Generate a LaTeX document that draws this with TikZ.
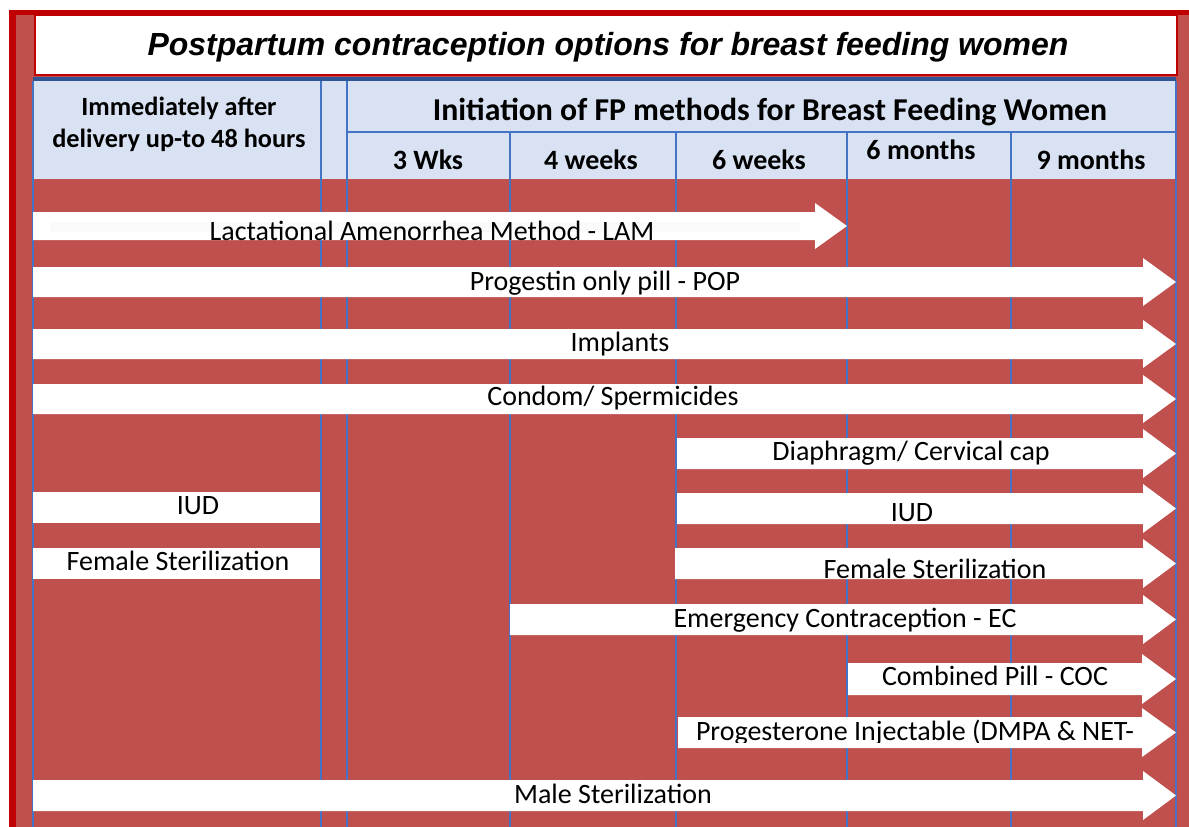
\documentclass[tikz,border=0pt]{standalone}
\usepackage{fontspec}
\setmainfont{Carlito}
\newfontfamily\titlefont{Liberation Sans}
\definecolor{bodyred}{HTML}{C0504D}
\definecolor{framered}{HTML}{C00000}
\definecolor{hdrfill}{HTML}{D9E2F3}
\definecolor{gridblue}{HTML}{4472C4}
\definecolor{topblue}{HTML}{2F5597}
\newcommand\blockarrow[5]{% xstart, headstart, tip, bodytop, bodybottom
  \fill[arrowfill] (#1,#4) -- (#2,#4) -- (#2,#4-9) -- (#3,{(#4+#5)/2}) -- (#2,#5+9) -- (#2,#5) -- (#1,#5) -- cycle;}
\begin{document}
\begin{tikzpicture}[x=1pt,y=-1pt,
  arrowfill/.style={fill=white},
  grid/.style={draw=gridblue, line width=1.2pt},
  bodytxt/.style={inner sep=0pt, anchor=base, font=\fontsize{28}{28}\selectfont},
  hdrtxt/.style={inner sep=0pt, anchor=base, font=\fontsize{26.3}{26}\selectfont\bfseries},
  subtxt/.style={inner sep=0pt, anchor=base, font=\fontsize{28}{28}\selectfont\bfseries},
  bigtxt/.style={inner sep=0pt, anchor=base, font=\fontsize{31.8}{32}\selectfont\bfseries},
  titletxt/.style={inner sep=0pt, anchor=base, font=\titlefont\fontsize{32}{32}\selectfont\bfseries\itshape}]
\useasboundingbox (0,0) rectangle (1189,827);
\fill[white] (0,0) rectangle (1189,827);
% frame and body
\fill[bodyred] (9,10) rectangle (1189,827);
\fill[framered] (9,10) rectangle (16,827);
\fill[framered] (9,10) rectangle (1189,15);
% title box
\draw[framered, line width=2pt, fill=white] (35,15) rectangle (1177,75);
\node[titletxt] (title) at (608,55) {Postpartum contraception options for breast feeding women};
% header
\fill[hdrfill] (33,81) rectangle (1176,179);
\fill[topblue] (33,77) rectangle (1176,81);
% grid lines
\draw[grid] (33,81) -- (33,827);
\draw[grid] (321,81) -- (321,827);
\draw[grid] (347,81) -- (347,827);
\draw[grid] (510,132) -- (510,827);
\draw[grid] (676,132) -- (676,827);
\draw[grid] (847,132) -- (847,827);
\draw[grid] (1011,132) -- (1011,827);
\draw[grid] (1176,81) -- (1176,827);
\draw[grid] (347,132) -- (1176,132);
% header texts
\node[hdrtxt] (h1) at (179,115) {Immediately after};
\node[hdrtxt] (h2) at (179,147) {delivery up-to 48 hours};
\node[bigtxt] (init) at (770,120) {Initiation of FP methods for Breast Feeding Women};
\node[subtxt] (c1) at (428,169) {3 Wks};
\node[subtxt] (c2) at (591,169) {4 weeks};
\node[subtxt] (c3) at (759,169) {6 weeks};
\node[subtxt] (c4) at (921,159) {6 months};
\node[subtxt] (c5) at (1091,169) {9 months};
% arrows
\blockarrow{33}{815}{847}{212}{240}
\fill[gray!4] (50,222) rectangle (800,232);
\node[bodytxt] (lam) at (432,240) {Lactational Amenorrhea Method - LAM};
\blockarrow{33}{1143}{1176}{267}{297}
\node[bodytxt] (pop) at (605,290) {Progestin only pill - POP};
\blockarrow{33}{1143}{1176}{329}{359}
\node[bodytxt] (impl) at (620,351) {Implants};
\blockarrow{33}{1143}{1176}{384}{414}
\node[bodytxt] (cond) at (613,405) {Condom/ Spermicides};
\blockarrow{677}{1143}{1176}{438}{469}
\node[bodytxt] (diap) at (911,460) {Diaphragm/ Cervical cap};
\blockarrow{677}{1143}{1176}{493}{524}
\node[bodytxt] (iudr) at (912,521) {IUD};
\blockarrow{675}{1143}{1176}{548}{579}
\node[bodytxt] (fsr) at (935,578) {Female Sterilization};
\blockarrow{510}{1143}{1176}{604}{635}
\node[bodytxt] (ec) at (845,627) {Emergency Contraception - EC};
\blockarrow{848}{1142}{1176}{663}{695}
\node[bodytxt] (coc) at (995,685) {Combined Pill - COC};
\blockarrow{678}{1142}{1176}{717}{748}
\begin{scope}
\clip (678,700) rectangle (1176,742);
\node[bodytxt] (prog) at (915,740) {Progesterone Injectable (DMPA \& NET-};
\end{scope}
\blockarrow{33}{1143}{1176}{780}{811}
\node[bodytxt] (male) at (613,803) {Male Sterilization};
% left column boxes
\fill[arrowfill] (33,492) rectangle (320,523);
\node[bodytxt] (iudl) at (198,514) {IUD};
\fill[arrowfill] (33,548) rectangle (320,579);
\node[bodytxt] (fsl) at (178,570) {Female Sterilization};
\end{tikzpicture}
\end{document}
